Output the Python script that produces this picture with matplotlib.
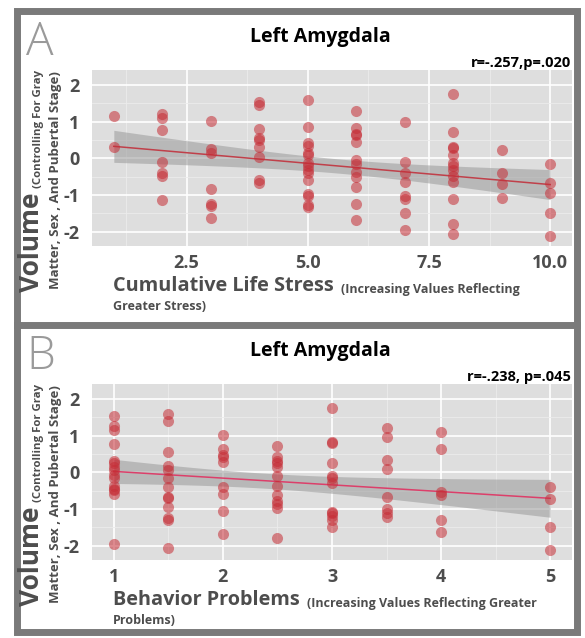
import numpy as np
import matplotlib
matplotlib.use("Agg")
import matplotlib.pyplot as plt
from matplotlib.patches import Rectangle
from matplotlib.lines import Line2D

plt.rcParams['font.family'] = ['Open Sans', 'DejaVu Sans']

# --- data: panel A (cumulative life stress) ---
stress_x = ([1] * 2 + [2] * 7 + [3] * 7 + [4] * 9 + [5] * 15 + [6] * 12 +
            [7] * 8 + [8] * 13 + [9] * 4 + [10] * 5)
stress_y = [1.15, 0.31,
            1.22, 1.11, 0.78, -0.10, -0.41, -0.48, -1.14,
            1.03, 0.25, 0.15, -0.83, -1.24, -1.30, -1.63,
            1.55, 1.45, 0.81, 0.56, 0.50, 0.30, 0.04, -0.59, -0.66,
            1.58, 0.85, 0.41, 0.34, 0.15, 0.10, -0.12, -0.21, -0.33, -0.41, -0.60, -0.96, -1.03, -1.28, -1.32,
            1.29, 0.83, 0.67, 0.63, 0.45, -0.05, -0.14, -0.37, -0.52, -0.78, -1.24, -1.68,
            0.99, -0.11, -0.39, -0.65, -1.03, -1.10, -1.49, -1.96,
            1.75, 0.72, 0.32, 0.27, 0.08, -0.12, -0.21, -0.32, -0.48, -0.65, -1.12, -1.80, -2.05,
            0.24, -0.41, -0.71, -1.07,
            -0.14, -0.67, -0.94, -1.49, -2.12]

# --- data: panel B (behavior problems) ---
behav_x = ([1] * 15 + [1.5] * 13 + [2] * 9 + [2.5] * 12 + [3] * 12 +
           [3.5] * 8 + [4] * 6 + [5] * 4)
behav_y = [1.55, 1.27, 1.15, 0.78, 0.32, 0.25, 0.14, 0.06, -0.07, -0.16, -0.37, -0.44, -0.48, -0.59, -1.96,
           1.59, 1.41, 0.55, 0.17, 0.06, -0.16, -0.41, -0.66, -0.71, -0.94, -1.25, -1.30, -2.05,
           1.02, 0.65, 0.47, 0.41, 0.28, -0.39, -0.59, -1.05, -1.68,
           0.73, 0.41, 0.32, 0.25, 0.14, -0.10, -0.37, -0.62, -0.77, -0.86, -0.98, -1.80,
           1.75, 0.84, 0.79, 0.25, -0.10, -0.16, -0.30, -1.07, -1.12, -1.18, -1.30, -1.48,
           1.20, 0.97, 0.34, 0.08, -0.68, -1.01, -1.12, -1.23,
           1.11, 0.64, -0.53, -0.62, -1.30, -1.63,
           -0.39, -0.73, -1.49, -2.12]

y_ticks = [-2, -1, 0, 1, 2]
stress_ticks = [2.5, 5.0, 7.5, 10.0]
stress_ticklabels = ["2.5", "5.0", "7.5", "10.0"]
behav_ticks = [1, 2, 3, 4, 5]
behav_ticklabels = ["1", "2", "3", "4", "5"]

W, H = 585, 638
fig = plt.figure(figsize=(W / 100, H / 100), dpi=100)
fig.patch.set_facecolor("white")


def fx(px):
    return px / W


def fy(py):
    return 1 - py / H


def lm_band(x, y, xs):
    # linear fit + 95% confidence band, like geom_smooth(method="lm")
    x = np.asarray(x, float)
    y = np.asarray(y, float)
    b1, b0 = np.polyfit(x, y, 1)
    n = len(x)
    resid = y - (b0 + b1 * x)
    s = np.sqrt(np.sum(resid ** 2) / (n - 2))
    sxx = np.sum((x - x.mean()) ** 2)
    se = s * np.sqrt(1 / n + (xs - x.mean()) ** 2 / sxx)
    fit = b0 + b1 * xs
    return fit, fit - 1.99 * se, fit + 1.99 * se


GRAY = "#4d4d4d"
POINT = "#c62d36"


def panel(top, x, y, xlim, xticks, xticklabels, minor, letter, stat, line_col,
          xtitle, xsub1, xsub2):
    ax = fig.add_axes([fx(92), fy(top + 176), fx(480), 176 / H])
    ax.set_facecolor("#dedede")
    for sp in ax.spines.values():
        sp.set_visible(False)
    ax.set_xlim(*xlim)
    ax.set_ylim(-2.39, 2.41)
    ax.set_xticks(xticks)
    ax.set_xticklabels(xticklabels)
    ax.set_xticks(minor, minor=True)
    ax.set_yticks(y_ticks)
    ax.set_yticklabels([str(v) for v in y_ticks])
    ax.set_yticks([-1.5, -0.5, 0.5, 1.5], minor=True)
    ax.grid(True, which="major", color="white", lw=1.2)
    ax.grid(True, which="minor", color="#ececec", lw=0.6)
    ax.set_axisbelow(True)
    ax.tick_params(which="both", length=0)
    ax.tick_params(axis="x", pad=6)
    ax.tick_params(axis="y", pad=9)
    for lab in ax.get_xticklabels() + ax.get_yticklabels():
        lab.set_fontsize(13)
        lab.set_fontweight("bold")
        lab.set_color(GRAY)

    xs = np.linspace(min(x), max(x), 100)
    fit, lo, hi = lm_band(x, y, xs)
    ax.fill_between(xs, lo, hi, color="#9a9a9a", alpha=0.55, lw=0, zorder=2)
    ax.plot(xs, fit, color=line_col, lw=1.1, zorder=3)
    ax.scatter(x, y, s=64, color=POINT, alpha=0.55, lw=0, zorder=4)

    # titles
    fig.text(fx(320), fy(top - 28), "Left Amygdala", ha="center", va="baseline",
             fontsize=14, fontweight="bold", color="black")
    fig.text(fx(571), fy(top - 3), stat, ha="right", va="baseline",
             fontsize=10.5, fontweight="bold", color="black")
    fig.text(fx(26), fy(top - 15), letter, ha="left", va="baseline",
             fontsize=33, fontweight="light", color="#9a9a9a")

    # x axis title
    t = fig.text(fx(113), fy(top + 221), xtitle, ha="left", va="baseline",
                 fontsize=14.3, fontweight="bold", color=GRAY)
    fig.text(fx(113), fy(top + 240), xsub2, ha="left", va="baseline",
             fontsize=9, fontweight="bold", color=GRAY)
    ax.annotate(xsub1, xy=(1, 0), xycoords=t, xytext=(5, 0),
                textcoords="offset points", ha="left", va="bottom",
                fontsize=9, fontweight="bold", color=GRAY, annotation_clip=False)

    # y axis title
    v = fig.text(fx(45), fy(top + 222), "Volume", rotation=90, ha="right",
                 va="bottom", fontsize=19, fontweight="bold", color=GRAY)
    ax.annotate("(Controlling For Gray", xy=(1, 1), xycoords=v, xytext=(-1, 3),
                textcoords="offset points", rotation=90, ha="right", va="bottom",
                fontsize=8.2, fontweight="bold", color=GRAY, annotation_clip=False)
    fig.text(fx(62), fy(top + 219), "Matter, Sex , And Pubertal Stage)",
             rotation=90, ha="right", va="bottom", fontsize=9.5,
             fontweight="bold", color=GRAY)
    return ax


panel(70, stress_x, stress_y, (0.55, 10.45), stress_ticks, stress_ticklabels,
      [1.25, 3.75, 6.25, 8.75], "A", "r=-.257,p=.020", "#c0404a",
      "Cumulative Life Stress", "(Increasing Values Reflecting", "Greater Stress)")
panel(384, behav_x, behav_y, (0.8, 5.2), behav_ticks, behav_ticklabels,
      [1.5, 2.5, 3.5, 4.5], "B", "r=-.238, p=.045", "#dc3f6a",
      "Behavior Problems", "(Increasing Values Reflecting Greater", "Problems)")

# frame around the two panels
border = "#7a7a7a"
fig.add_artist(Rectangle((fx(17), fy(632)), fx(560), (632 - 10.5) / H,
                         transform=fig.transFigure, fill=False, ec=border, lw=5))
fig.add_artist(Line2D([fx(17), fx(577)], [fy(324.5), fy(324.5)],
                      transform=fig.transFigure, color=border, lw=5))

fig.savefig("out.png", dpi=100)
